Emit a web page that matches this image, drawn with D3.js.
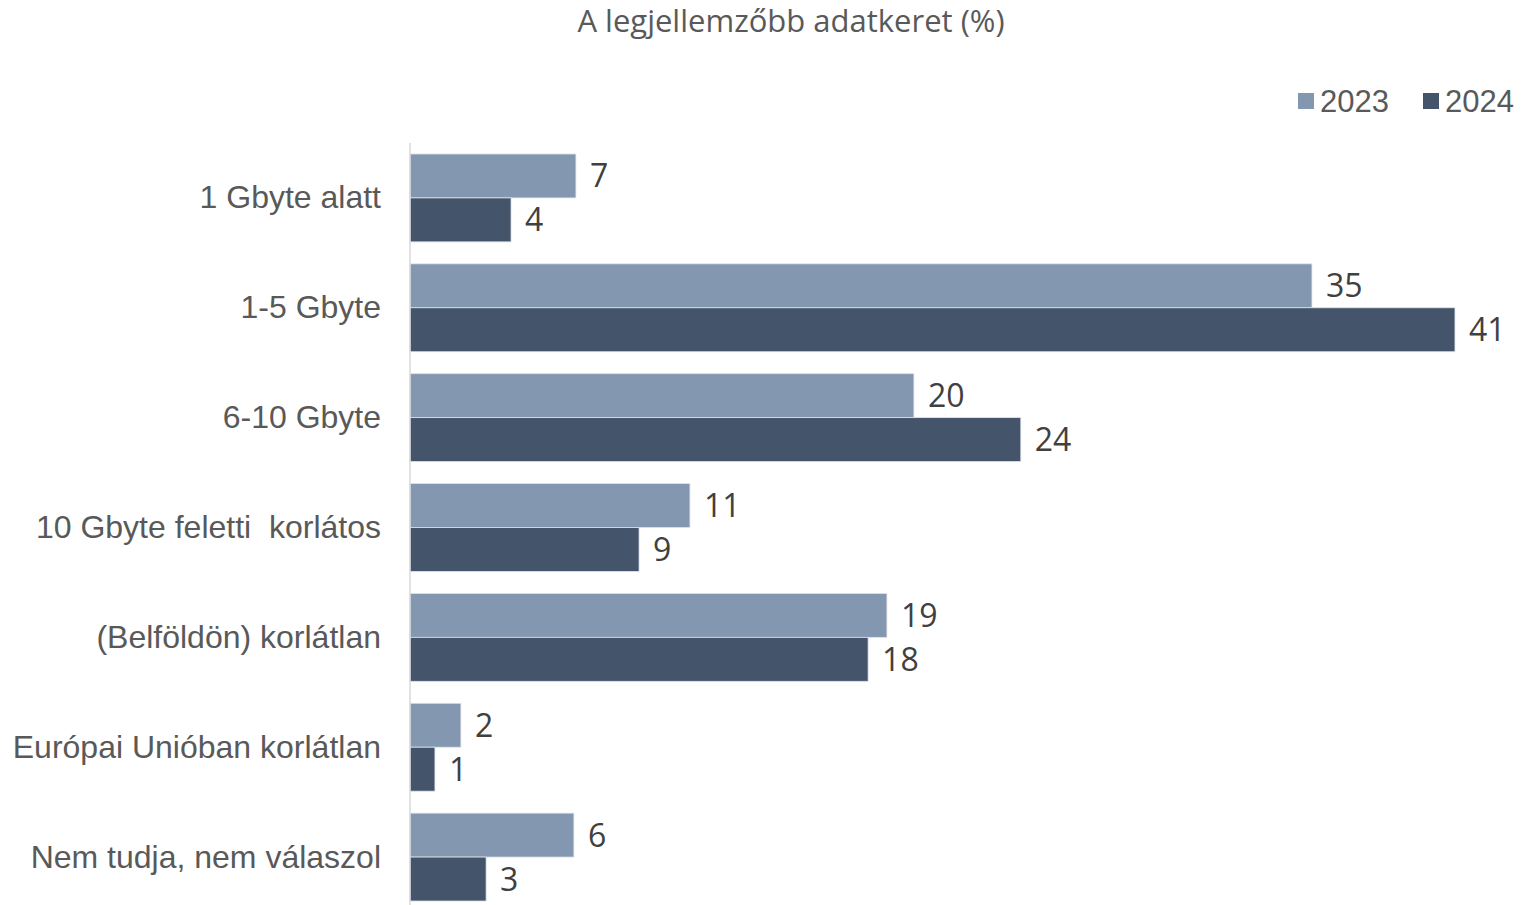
<!DOCTYPE html>
<html><head><meta charset="utf-8">
<script src="https://cdn.jsdelivr.net/npm/d3@7"></script>
<style>body{margin:0;background:#fff;} svg{display:block;} text{white-space:pre;}</style>
</head><body>
<svg id="chart" width="1521" height="905"></svg>
<script>
const categories = ["1 Gbyte alatt","1-5 Gbyte","6-10 Gbyte","10 Gbyte feletti  korlátos","(Belföldön) korlátlan","Európai Unióban korlátlan","Nem tudja, nem válaszol"];
const seriesNames = ["2023","2024"];
const values2023 = [6.52, 35.44, 19.8, 11.0, 18.74, 2.0, 6.44];
const values2024 = [3.97, 41.06, 24.0, 9.0, 18.0, 0.98, 2.99];
const colors = ["#8497B0","#44546A"];

const svg = d3.select("#chart");
const x = d3.scaleLinear().domain([0, 1]).range([410, 435.45]);
const y0 = d3.scaleBand().domain(categories).range([143, 912]).paddingInner(0.2).paddingOuter(0.1);
const y1 = d3.scaleBand().domain(seriesNames).range([0, y0.bandwidth()]);

const data = categories.map((c,i)=>({cat:c, vals:[values2023[i], values2024[i]]}));

const g = svg.selectAll("g.cat").data(data).join("g").attr("transform", d=>`translate(0,${y0(d.cat)})`);
g.selectAll("rect").data(d=>d.vals.map((v,j)=>({v, s:seriesNames[j], j})))
  .join("rect")
  .attr("x", x(0)).attr("y", d=>y1(d.s))
  .attr("width", d=>x(d.v)-x(0)).attr("height", y1.bandwidth())
  .attr("fill", d=>colors[d.j]).attr("stroke", "#dfe3ea").attr("stroke-width", 0.8);
g.selectAll("text").data(d=>d.vals.map((v,j)=>({v, s:seriesNames[j], j})))
  .join("text")
  .attr("x", d=>x(d.v)+14).attr("y", d=>y1(d.s)+y1.bandwidth()/2)
  .attr("dy","0.36em")
  .attr("font-family","'Open Sans', sans-serif").attr("font-size",32).attr("fill","#404040")
  .text(d=>d3.format(".0f")(d.v));

// axis
const yAxis = d3.axisLeft(y0).tickSize(0).tickPadding(29);
const ag = svg.append("g").attr("transform","translate(410,0)").call(yAxis).attr("font-family","Liberation Sans");
ag.select(".domain").attr("stroke","#d9d9d9").attr("stroke-width",1.5).attr("d","M0,143V905");
ag.selectAll("text").style("font-family","'Liberation Sans', Arial, sans-serif").attr("font-size",32).attr("fill","#595959").attr("dy","0.33em");

// title
svg.append("text").attr("x",791).attr("y",21).attr("dy","0.36em").attr("text-anchor","middle")
  .attr("font-family","'Open Sans', sans-serif").attr("font-size",31).attr("fill","#595959")
  .text("A legjellemzőbb adatkeret (%)");

// legend
const legX = [1298, 1423];
const lg = svg.selectAll("g.leg").data(seriesNames).join("g").attr("transform",(d,i)=>`translate(${legX[i]},101)`);
lg.append("rect").attr("x",0).attr("y",-8).attr("width",16).attr("height",16).attr("fill",(d,i)=>colors[i]);
lg.append("text").attr("x",22).attr("y",0).attr("dy","0.36em")
  .style("font-family","'Liberation Sans', Arial, sans-serif").attr("font-size",31).attr("fill","#595959").text(d=>d);
</script>
</body></html>
